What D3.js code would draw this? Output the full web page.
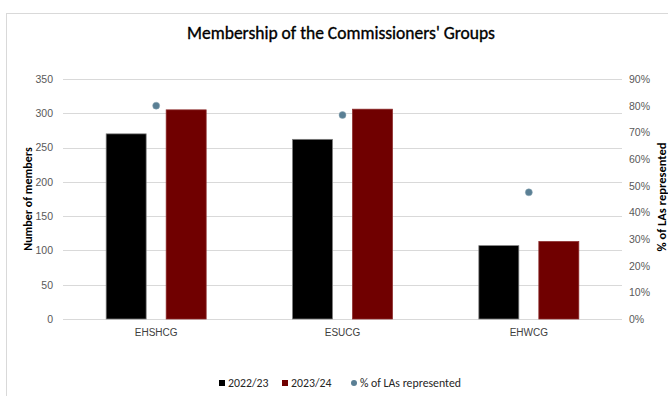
<!DOCTYPE html>
<html>
<head>
<meta charset="utf-8">
<script src="https://cdn.jsdelivr.net/npm/d3@7"></script>
<style>
  body { margin: 0; background: #fff; }
  svg { font-family: Carlito, "Open Sans", "Liberation Sans", sans-serif; }
</style>
</head>
<body>
<div id="chart"></div>
<script>
'use strict';
var groups = ['EHSHCG', 'ESUCG', 'EHWCG'];
var members2223 = [270, 262, 107];
var members2324 = [305, 306, 113];
var pctRepresented = [0.80, 0.765, 0.475];
var leftTicks = [0, 50, 100, 150, 200, 250, 300, 350];
var rightTicks = [0, 0.1, 0.2, 0.3, 0.4, 0.5, 0.6, 0.7, 0.8, 0.9];
var seriesNames = ['2022/23', '2023/24', '% of LAs represented'];

var width = 668, height = 396;
var margin = {top: 79, right: 46, bottom: 77, left: 63};
var plotW = width - margin.left - margin.right;
var plotH = height - margin.top - margin.bottom;

var svg = d3.select('#chart').append('svg')
    .attr('width', width)
    .attr('height', height);

// chart frame
svg.append('rect')
    .attr('x', 6.5).attr('y', 13.5)
    .attr('width', 700).attr('height', 400)
    .attr('fill', 'none')
    .attr('stroke', '#d9d9d9');

svg.append('text')
    .attr('x', 341).attr('y', 39)
    .attr('text-anchor', 'middle')
    .attr('font-size', '17.5px')
    .attr('fill', '#000')
    .attr('stroke', '#000')
    .attr('stroke-width', 0.35)
    .text("Membership of the Commissioners' Groups");

var g = svg.append('g')
    .attr('transform', 'translate(' + margin.left + ',' + margin.top + ')');

var x0 = d3.scaleBand().domain(groups).range([0, plotW]);
var x1 = d3.scaleBand().domain([0, 1]).range([0, 100]).paddingInner(1 / 3);
var yL = d3.scaleLinear().domain([0, 350]).range([plotH, 0]);
var yR = d3.scaleLinear().domain([0, 0.9]).range([plotH, 0]);

// gridlines
g.append('g')
    .selectAll('line')
    .data(leftTicks)
    .enter()
    .append('line')
    .attr('x1', 0).attr('x2', plotW)
    .attr('y1', function(d) { return Math.round(yL(d)) + 0.5; })
    .attr('y2', function(d) { return Math.round(yL(d)) + 0.5; })
    .attr('stroke', '#d9d9d9');

var leftAxis = g.append('g')
    .attr('transform', 'translate(-8,0)')
    .call(d3.axisLeft(yL).tickValues(leftTicks).tickSize(0).tickPadding(2));
leftAxis.select('.domain').remove();
leftAxis.selectAll('text')
    .attr('font-size', '10.5px')
    .attr('fill', '#595959')
    .attr('font-family', null);

var rightAxis = g.append('g')
    .attr('transform', 'translate(' + (plotW + 5) + ',0)')
    .call(d3.axisRight(yR).tickValues(rightTicks).tickFormat(d3.format('.0%')).tickSize(0).tickPadding(2));
rightAxis.select('.domain').remove();
rightAxis.selectAll('text')
    .attr('font-size', '10.5px')
    .attr('fill', '#595959')
    .attr('font-family', null);

var catAxis = g.append('g')
    .attr('transform', 'translate(0,' + plotH + ')')
    .call(d3.axisBottom(x0).tickSize(0).tickPadding(10));
catAxis.select('.domain').remove();
catAxis.selectAll('text')
    .attr('font-size', '10px')
    .attr('fill', '#404040')
    .attr('font-family', null);

var colors = ['#000000', '#700000'];
var strokes = ['#7f7f7f', '#8c2b2b'];
var seriesValues = [members2223, members2324];

seriesValues.forEach(function(vals, s) {
    g.append('g')
        .selectAll('rect')
        .data(vals)
        .enter()
        .append('rect')
        .attr('x', function(d, i) {
            return x0(groups[i]) + (x0.bandwidth() - 100) / 2 + x1(s);
        })
        .attr('y', function(d) { return yL(d); })
        .attr('width', x1.bandwidth())
        .attr('height', function(d) { return plotH - yL(d); })
        .attr('fill', colors[s])
        .attr('stroke', strokes[s])
        .attr('stroke-width', 0.75);
});

g.append('g')
    .selectAll('circle')
    .data(pctRepresented)
    .enter()
    .append('circle')
    .attr('cx', function(d, i) { return x0(groups[i]) + x0.bandwidth() / 2; })
    .attr('cy', function(d) { return yR(d); })
    .attr('r', 3.5)
    .attr('fill', '#5a7f94')
    .attr('stroke', '#8aa6b5')
    .attr('stroke-width', 0.5);

// axis titles
svg.append('text')
    .attr('transform', 'translate(32,' + (margin.top + plotH / 2) + ') rotate(-90)')
    .attr('text-anchor', 'middle')
    .attr('font-size', '12px')
    .attr('font-weight', 'bold')
    .attr('fill', '#000')
    .text('Number of members');

svg.append('text')
    .attr('transform', 'translate(666,' + (margin.top + plotH / 2 - 2) + ') rotate(-90)')
    .attr('text-anchor', 'middle')
    .attr('font-size', '12.5px')
    .attr('font-weight', 'bold')
    .attr('fill', '#000')
    .text('% of LAs represented');

// legend
var legendX = [219, 282, 351];
var legend = svg.append('g')
    .attr('transform', 'translate(0,383)');
seriesNames.forEach(function(name, i) {
    var item = legend.append('g')
        .attr('transform', 'translate(' + legendX[i] + ',0)');
    if (i < 2) {
        item.append('rect')
            .attr('x', 0).attr('y', -3)
            .attr('width', 6).attr('height', 6)
            .attr('fill', colors[i]);
    } else {
        item.append('circle')
            .attr('cx', 3).attr('cy', 0)
            .attr('r', 3)
            .attr('fill', '#5a7f94');
    }
    item.append('text')
        .attr('x', 9).attr('y', 4)
        .attr('font-size', '11.8px')
        .attr('fill', '#262626')
        .text(name);
});
</script>
</body>
</html>
